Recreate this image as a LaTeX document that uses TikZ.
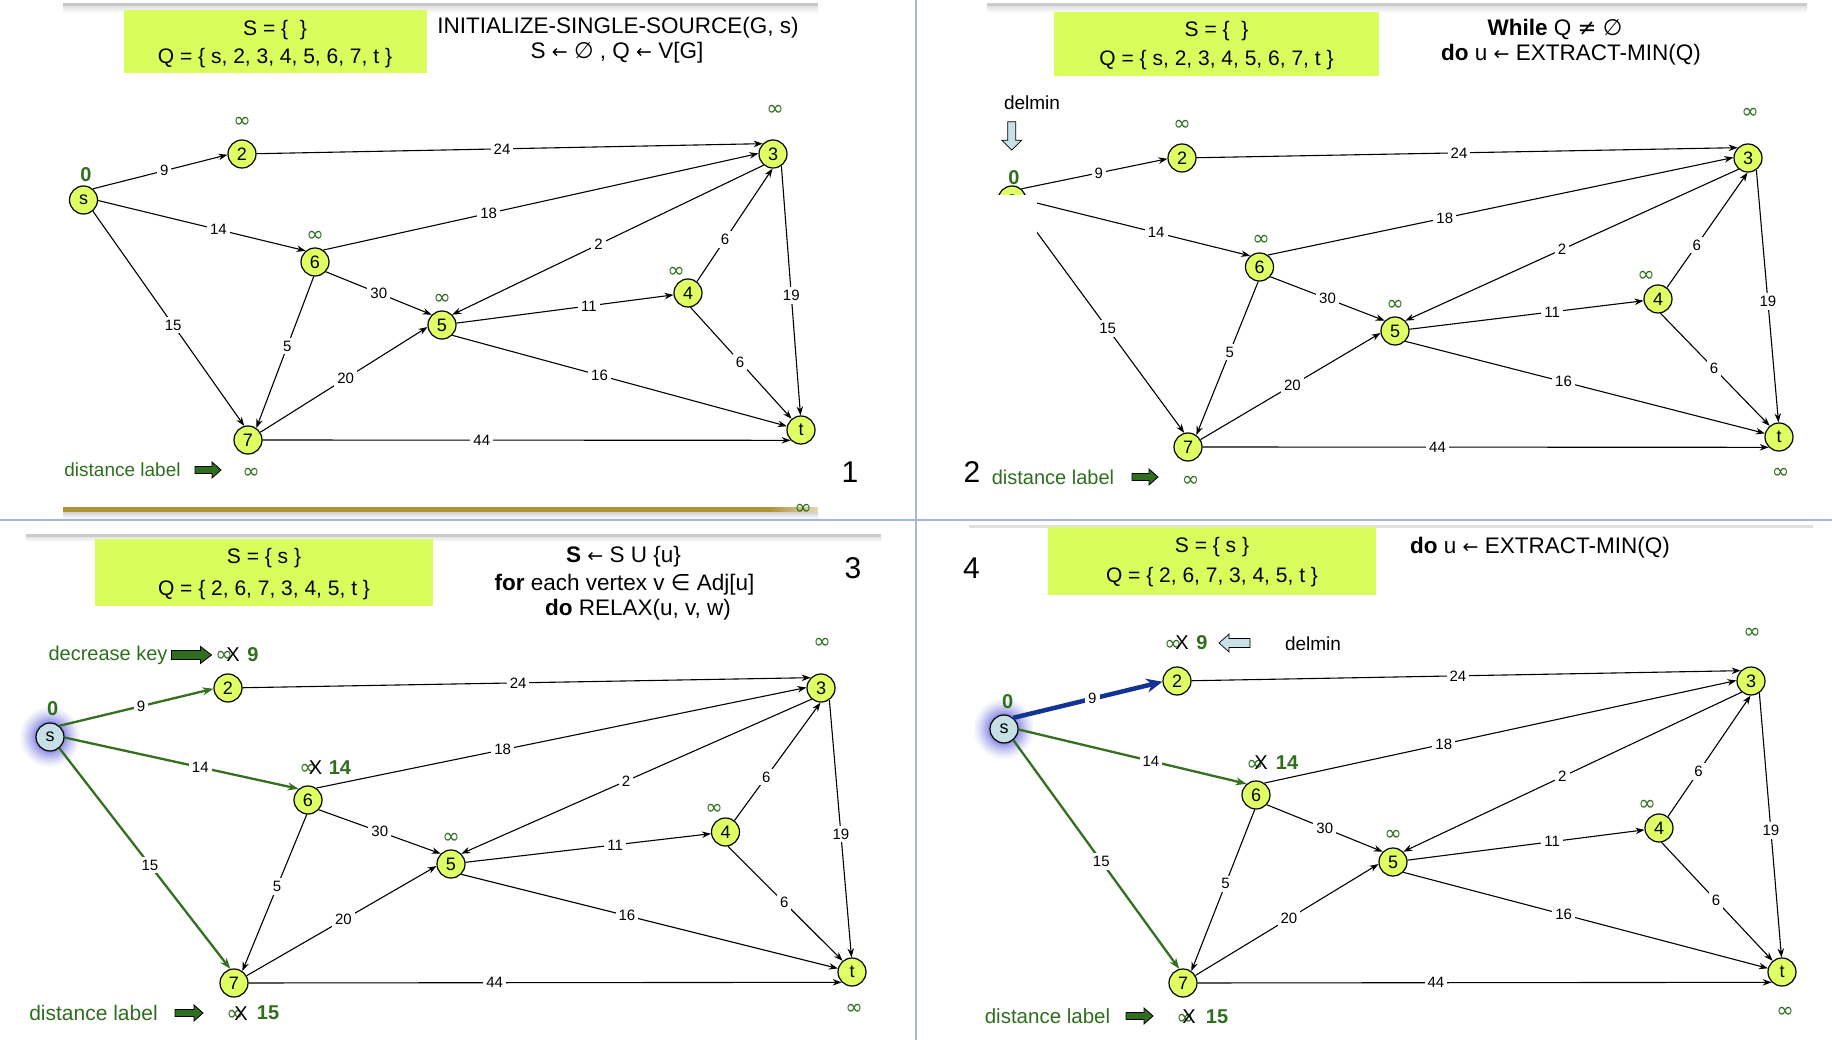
\documentclass[tikz,border=0pt]{standalone}
\usepackage{fontspec}
\setmainfont{Liberation Sans}
\newfontfamily\symf{DejaVu Sans}
\usetikzlibrary{arrows.meta}
\definecolor{boxfill}{RGB}{218,253,94}
\definecolor{nodefill}{RGB}{224,255,98}
\definecolor{dkgreen}{RGB}{47,110,30}
\definecolor{gline}{RGB}{52,112,32}
\definecolor{bline}{RGB}{18,50,150}
\definecolor{sfill}{RGB}{198,224,230}
\definecolor{glowc}{RGB}{105,105,225}
\definecolor{delfill}{RGB}{200,225,230}
\definecolor{sepcol}{RGB}{165,182,216}
\definecolor{goldc}{RGB}{176,146,58}
\newcommand\larrw{{\fontsize{19}{19}\symf ←}}
\newcommand\emptysym{{\symf ∅}}
\newcommand\neqsym{{\symf ≠}}
\newcommand\insym{{\symf ∈}}
\newcommand\infsym{{\symf ∞}}
\tikzset{
  vtx/.style={circle, draw=black, line width=1.2pt, fill=nodefill, minimum size=28pt, inner sep=0pt, font=\fontsize{18}{18}\selectfont},
  svtx/.style={vtx, fill=sfill},
  edge/.style={line width=1.1pt, -{Stealth[length=9pt,width=6.5pt]}},
  gedge/.style={line width=2.3pt, draw=gline, -{Stealth[length=11pt,width=8pt]}},
  bedge/.style={line width=4.5pt, draw=bline, -{Stealth[length=16pt,width=14pt]}},
  elab/.style={fill=white, inner sep=3pt, text=black, font=\fontsize{15}{15}\selectfont},
  inf/.style={text=dkgreen, inner sep=0pt, font=\fontsize{21}{21}\selectfont},
  zero/.style={text=dkgreen, inner sep=0pt, font=\bfseries\fontsize{20}{20}\selectfont},
  boxst/.style={fill=boxfill, inner sep=0pt, draw=none},
  boxtext/.style={inner sep=0pt, font=\fontsize{21}{21}\selectfont},
  pseudo/.style={inner sep=0pt, font=\fontsize{22.5}{22.5}\selectfont},
  dlab/.style={text=dkgreen, inner sep=0pt},
  bignum/.style={inner sep=0pt, font=\fontsize{30}{30}\selectfont},
  xmark/.style={inner sep=0pt, font=\fontsize{20}{20}\selectfont},
  newval/.style={text=dkgreen, inner sep=0pt, font=\bfseries\fontsize{20}{20}\selectfont},
  pics/barrow/.style n args={4}{code={
    \path[pic actions] (0,-#2) -- (#1-#4,-#2) -- (#1-#4,-#3) -- (#1,0) -- (#1-#4,#3) -- (#1-#4,#2) -- (0,#2) -- cycle;}},
}
\newcommand\graphnodes[8]{%
  \node[vtx] (#12) at #2 {2};
  \node[vtx] (#13) at #3 {3};
  \node[vtx] (#14) at #4 {4};
  \node[vtx] (#15) at #5 {5};
  \node[vtx] (#16) at #6 {6};
  \node[vtx] (#17) at #7 {7};
  \node[vtx] (#1t) at #8 {t};
}
\newcommand\graphedges[1]{%
  \draw[edge] (#12) -- node[elab,pos=0.485]{24} (#13.135);
  \draw[edge] (#16.55) -- node[elab,pos=0.38]{18} (#13.178);
  \draw[edge] (#16.265) -- node[elab,pos=0.46]{5} (#17.55);
  \draw[edge] (#16.318) -- node[elab,pos=0.5]{30} (#15.135);
  \draw[edge] (#13.230) -- node[elab,pos=0.53]{2} (#15.45);
  \draw[edge] (#14.52) -- node[elab,pos=0.37]{6} (#13.268);
  \draw[edge] (#13.305) -- node[elab,pos=0.52]{19} (#1t.92);
  \draw[edge] (#15) -- node[elab,pos=0.61]{11} (#14);
  \draw[edge] (#14.280) -- node[elab,pos=0.49]{6} (#1t.130);
  \draw[edge] (#15.315) -- node[elab,pos=0.44]{16} (#1t);
  \draw[edge] (#17) -- node[elab,pos=0.51]{20} (#15.188);
  \draw[edge] (#17) -- node[elab,pos=0.415]{44} (#1t.225);
}
\newcommand\sedges[4]{%
  \draw[#2] (#1s.50) -- node[elab,pos=0.53]{9} (#12.183);
  \draw[#3] (#1s.358) -- node[elab,pos=0.58]{14} (#16.130);
  \draw[#4] (#1s.310) -- node[elab,pos=0.53]{15} (#17.105);
}
\newcommand\glowat[1]{\foreach \r/\o in {30/0.06,28/0.07,26/0.08,24/0.1,22/0.12,20/0.15,18/0.2,16/0.3}{\fill[glowc,opacity=\o] #1 circle (\r pt);}}
\begin{document}
\begin{tikzpicture}[x=1pt,y=-1pt]
\useasboundingbox (0,0) rectangle (1832,1040);
\fill[white] (0,0) rectangle (1832,1040);
% ---------- frame lines ----------
\fill[black!22] (63,3) rectangle (818,7);
\shade[top color=black!10, bottom color=white] (63,7) rectangle (818,13);
\fill[black!20] (987,3) rectangle (1807,7);
\shade[top color=black!10, bottom color=white] (987,7) rectangle (1807,13);
\fill[goldc] (63,507) rectangle (770,512);
\shade[left color=goldc, right color=goldc!35] (770,507) rectangle (818,512);
\shade[top color=black!18, bottom color=white] (63,512) rectangle (818,519);
\fill[black!20] (26,534) rectangle (881,537);
\shade[top color=black!10, bottom color=white] (26,537) rectangle (881,542);
\fill[black!12] (969,525) rectangle (1813,528);
\draw[sepcol, line width=1.5pt] (916,0) -- (916,1040);
\draw[sepcol, line width=1.5pt] (0,520) -- (1832,520);

% =================== PANEL 1 ===================
\node[boxst, minimum width=303pt, minimum height=63pt] (abox) at (275.5,41.5) {};
\node[boxtext] (aS) at (275,30) {S = \{ \ \}};
\node[boxtext] (aQ) at (275,58) {Q = \{ s, 2, 3, 4, 5, 6, 7, t \}};
\node[pseudo] (ap1) at (618,28) {INITIALIZE-SINGLE-SOURCE(G, s)};
\node[pseudo] (ap2) at (617,53) {S \larrw\ \emptysym\ , Q \larrw\ V[G]};
\node[vtx] (as) at (83.5,200) {s};
\graphnodes{a}{(242,154)}{(773,154)}{(688,293)}{(442,325)}{(315,262)}{(248,440)}{(801,430)}
\sedges{a}{edge}{edge}{edge}
\graphedges{a}
\node[zero] (a0) at (86,175) {0};
\node[inf] (ai2) at (242,122) {\infsym};
\node[inf] (ai3) at (775,110) {\infsym};
\node[inf] (ai6) at (315,236) {\infsym};
\node[inf] (ai5) at (442,299) {\infsym};
\node[inf] (ai4) at (676,272) {\infsym};
\node[inf] (ai7) at (251,473) {\infsym};
\node[inf] (ait) at (803,509) {\infsym};
\node[dlab, font=\fontsize{19}{19}\selectfont] (adl) at (122.5,470) {distance label};
\pic[draw=black, line width=0.8pt, fill=dkgreen] at (195,470) {barrow={26}{3.5}{8}{9}};
\node[bignum] (an) at (850,472) {1};

% =================== PANEL 2 ===================
\node[boxst, minimum width=325pt, minimum height=64pt] (bbox) at (1216.5,44) {};
\node[boxtext] (bS) at (1216.5,31) {S = \{ \ \}};
\node[boxtext] (bQ) at (1216.5,60) {Q = \{ s, 2, 3, 4, 5, 6, 7, t \}};
\node[pseudo] (bp1) at (1555,29) {\textbf{While} Q \neqsym\ \emptysym};
\node[pseudo] (bp2) at (1571,55) {\textbf{do} u \larrw\ EXTRACT-MIN(Q)};
\node[vtx] (bs) at (1012,200) {s};
\graphnodes{b}{(1182,158)}{(1748,158)}{(1658,299)}{(1395,331)}{(1259.5,267)}{(1188,447)}{(1779,437)}
\sedges{b}{edge}{edge}{edge}
\graphedges{b}
\fill[white] (993,195) rectangle (1037,252);
\node[zero] (b0) at (1014,178) {0};
\node[inf] (bi2) at (1182,125) {\infsym};
\node[inf] (bi3) at (1750,113) {\infsym};
\node[inf] (bi6) at (1261,240) {\infsym};
\node[inf] (bi5) at (1395,305) {\infsym};
\node[inf] (bi4) at (1646,276) {\infsym};
\node[inf] (bi7) at (1190.5,481) {\infsym};
\node[inf] (bit) at (1780.5,473) {\infsym};
\node[inner sep=0pt, font=\fontsize{19}{19}\selectfont] (bdel) at (1032,103) {delmin};
\pic[draw=black, line width=0.7pt, fill=delfill, rotate=-90] at (1011.7,121.7) {barrow={28.5}{4}{10}{10}};
\node[dlab, font=\fontsize{20}{20}\selectfont] (bdl) at (1053,477) {distance label};
\pic[draw=black, line width=0.8pt, fill=dkgreen] at (1132,477) {barrow={26}{3.5}{8}{9}};
\node[bignum] (bn) at (972,472) {2};

% =================== PANEL 3 ===================
\node[boxst, minimum width=338pt, minimum height=67pt] (cbox) at (264,572.5) {};
\node[boxtext] (cS) at (264,558) {S = \{ s \}};
\node[boxtext] (cQ) at (264,590) {Q = \{ 2, 6, 7, 3, 4, 5, t \}};
\node[pseudo] (cp1) at (623.5,557) {\textbf{S} \larrw\ S U \{u\}};
\node[pseudo] (cp2) at (624.5,585) {\textbf{for} each vertex v \insym\ Adj[u]};
\node[pseudo] (cp3) at (638,610) {\textbf{do} RELAX(u, v, w)};
\node[bignum] (cn) at (853,568) {3};
\glowat{(50,737)}
\node[svtx] (cs) at (50,737) {s};
\graphnodes{c}{(228,688)}{(821,688)}{(725.5,832)}{(451,864)}{(308,800)}{(234,983)}{(852,972)}
\sedges{c}{gedge}{gedge}{gedge}
\graphedges{c}
\node[zero] (c0) at (52.6,709) {0};
\node[inf] (ci3) at (822,643) {\infsym};
\node[inf] (ci5) at (451,838) {\infsym};
\node[inf] (ci4) at (714,809) {\infsym};
\node[inf] (cit) at (854,1009) {\infsym};
\node[dlab, font=\fontsize{20}{20}\selectfont] (cdk) at (108,655) {decrease key};
\pic[draw=black, line width=0.8pt, fill=dkgreen] at (171.5,655) {barrow={40}{4.5}{8.5}{11}};
\node[inf] (ci2) at (224,656) {\infsym};
\node[xmark] (cx2) at (233,655) {X};
\node[newval] (cv2) at (253,655) {9};
\node[inf] (ci6) at (308,769) {\infsym};
\node[xmark] (cx6) at (315.5,768) {X};
\node[newval] (cv6) at (340,768) {14};
\node[dlab, font=\fontsize{21}{21}\selectfont] (cdl) at (93.5,1013) {distance label};
\pic[draw=black, line width=0.8pt, fill=dkgreen] at (175,1013) {barrow={28}{3.5}{8}{9}};
\node[inf] (ci7) at (235,1015) {\infsym};
\node[xmark] (cx7) at (241,1014) {X};
\node[newval] (cv7) at (268,1013) {15};

% =================== PANEL 4 ===================
\node[boxst, minimum width=328pt, minimum height=68pt] (dbox) at (1212,561) {};
\node[boxtext] (dS) at (1212,547) {S = \{ s \}};
\node[boxtext] (dQ) at (1212,577) {Q = \{ 2, 6, 7, 3, 4, 5, t \}};
\node[pseudo] (dp1) at (1540,548) {\textbf{do} u \larrw\ EXTRACT-MIN(Q)};
\node[bignum] (dn) at (971.5,568) {4};
\glowat{(1004,729)}
\node[svtx] (ds) at (1004,729) {s};
\graphnodes{d}{(1177,681)}{(1751,681)}{(1659,828)}{(1393,862)}{(1256,795)}{(1183,983)}{(1782,972)}
\sedges{d}{bedge}{gedge}{gedge}
\graphedges{d}
\node[zero] (d0) at (1007.7,701.7) {0};
\node[inf] (di3) at (1752,633) {\infsym};
\node[inf] (di5) at (1393,835) {\infsym};
\node[inf] (di4) at (1647,805) {\infsym};
\node[inf] (dit) at (1785,1012) {\infsym};
\node[inf] (di2) at (1173,645) {\infsym};
\node[xmark] (dx2) at (1182,643) {X};
\node[newval] (dv2) at (1202,643) {9};
\pic[draw=black, line width=0.7pt, fill=delfill, rotate=180] at (1250,643) {barrow={31}{4.5}{9}{10}};
\node[inner sep=0pt, font=\fontsize{19}{19}\selectfont] (ddel) at (1313,644) {delmin};
\node[inf] (di6) at (1255,765) {\infsym};
\node[xmark] (dx6) at (1261,763) {X};
\node[newval] (dv6) at (1287,763) {14};
\node[dlab, font=\fontsize{20.5}{20.5}\selectfont] (ddl) at (1047.5,1016) {distance label};
\pic[draw=black, line width=0.8pt, fill=dkgreen] at (1126,1016) {barrow={27}{3.5}{8}{9}};
\node[inf] (di7) at (1185,1019) {\infsym};
\node[xmark] (dx7) at (1189,1017) {X};
\node[newval] (dv7) at (1217,1017) {15};
\end{tikzpicture}
\end{document}
